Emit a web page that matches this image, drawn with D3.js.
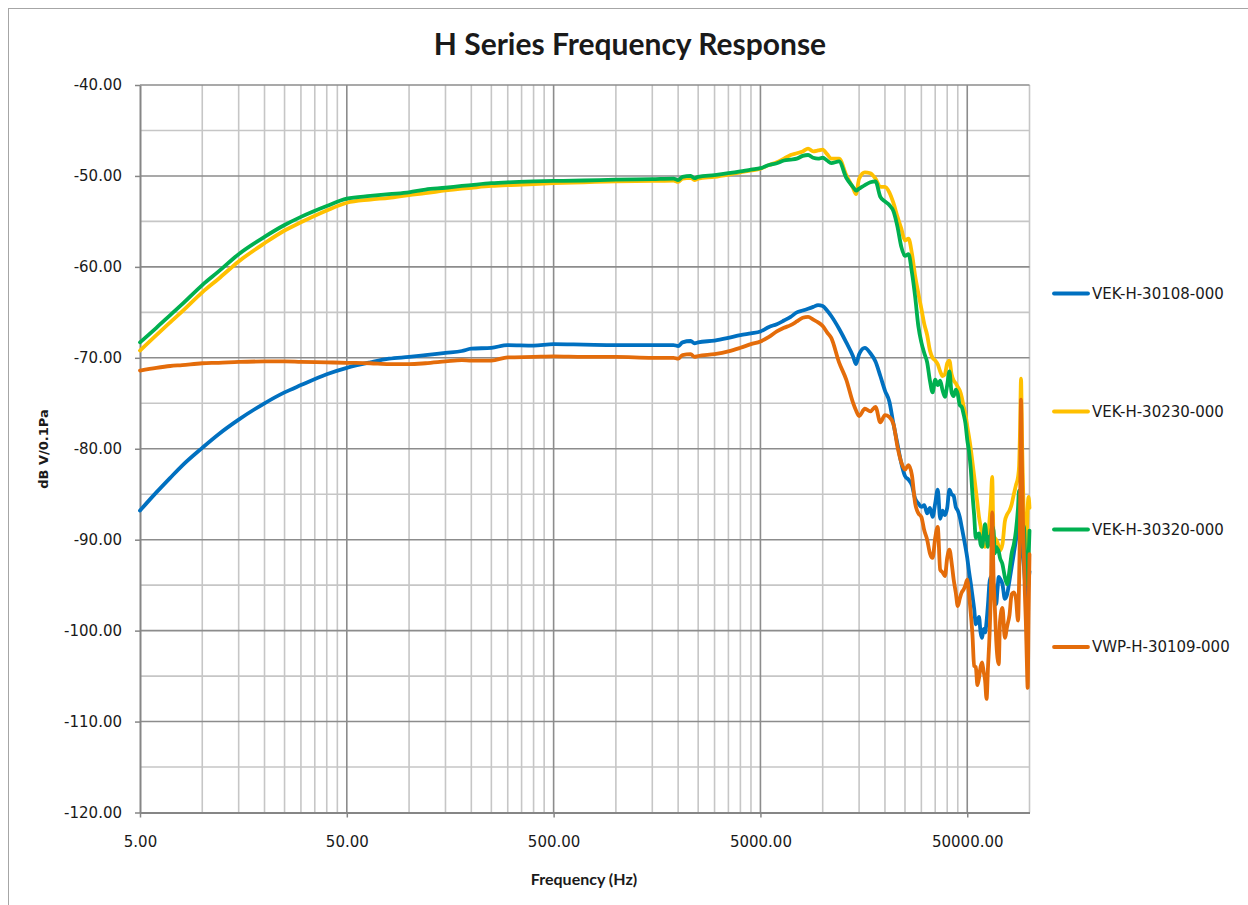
<!DOCTYPE html>
<html>
<head>
<meta charset="utf-8">
<script src="https://cdn.jsdelivr.net/npm/d3@7"></script>
<style>
  body { margin: 0; background: #fff; }
  svg { display: block; }
</style>
</head>
<body>
<svg id="chart" width="1248" height="905"></svg>
<script>
// frequency points (Hz), shared by all four series
var freqHz = [5, 6, 7, 8, 10, 12, 15, 20, 25, 30,
    40, 50, 65, 80, 100, 120, 150, 180, 200, 250,
    300, 400, 500, 700, 1000, 1500, 1900, 2000, 2100, 2300,
    2400, 2500, 3000, 3500, 4000, 4500, 5000, 5500, 6000, 6500,
    7000, 7500, 8000, 8500, 9000, 9500, 10000,
    10500, 11000, 12000, 13000, 14000, 14500, 15000, 16000, 17000, 18000, 19000, 20000,
    21000, 22000, 23000, 24000, 25000, 26000, 27000, 28000, 29000, 30000,
    31000, 32000, 33000, 34000, 35000, 36000, 37000, 38000, 39000, 40000,
    41000, 42000, 43000, 44000, 45000, 46000, 47000, 48000, 49000, 50000,
    51000, 52000, 53000, 54000, 55000, 56000, 57000, 58000, 59000, 60000,
    61000, 62000, 63000, 64000, 65000, 66000, 67000, 68000, 69000, 70000, 71000,
    72000, 74000, 76000, 78000, 80000, 82000, 84000, 86000, 88000,
    89000, 90000, 91000, 92000, 93000, 94000, 95000, 96000, 97000, 98000, 99000, 100000];

// dB V/0.1Pa
var vek30108 = [-86.8, -84.8, -83.2, -81.85, -79.9, -78.4, -76.8, -75.0, -73.8, -73.0,
    -71.8, -71.1, -70.5, -70.1, -69.9, -69.7, -69.45, -69.25, -69.0, -68.9,
    -68.6, -68.65, -68.5, -68.55, -68.6, -68.6, -68.6, -68.7, -68.3, -68.15,
    -68.4, -68.3, -68.1, -67.8, -67.5, -67.3, -67.1, -66.6, -66.3, -65.9,
    -65.5, -65.0, -64.8, -64.6, -64.4, -64.2, -64.3,
    -64.8, -65.4, -66.8, -68.3, -69.8, -70.7, -69.6, -68.9, -69.5, -70.4, -72.0, -73.6,
    -74.8, -77.3, -79.5, -81.6, -83.0, -83.4, -84.0, -85.5, -86.0, -86.4,
    -86.2, -87.1, -86.5, -87.5, -86.0, -84.5, -87.7, -86.8, -87.3, -86.5,
    -84.5, -85.0, -85.2, -86.4, -86.8, -87.5, -88.6, -89.7, -90.8, -92.0,
    -93.5, -94.8, -96.2, -97.6, -99.3, -99.0, -98.5, -100.2, -100.8, -99.8,
    -100.2, -99.0, -97.1, -94.8, -94.1, -94.5, -94.9, -96.0, -97.1, -95.5, -94.1,
    -94.3, -94.9, -96.5, -96.0, -94.5, -93.0, -91.5, -90.0, -88.0,
    -88.5, -89.0, -90.0, -91.0, -92.0, -93.0, -94.5, -96.0, -97.0, -96.0, -94.5, -93.5];

var vek30230 = [-69.2, -67.5, -66.1, -64.9, -62.8, -61.3, -59.4, -57.4, -56.0, -55.1,
    -53.8, -52.95, -52.6, -52.4, -52.1, -51.9, -51.6, -51.4, -51.3, -51.1,
    -51.0, -50.9, -50.8, -50.7, -50.6, -50.55, -50.5, -50.65, -50.3, -50.2,
    -50.45, -50.3, -50.1, -49.85, -49.6, -49.4, -49.2, -48.8, -48.5, -48.1,
    -47.7, -47.5, -47.3, -47.0, -47.3, -47.2, -47.1,
    -47.6, -48.1, -48.1, -49.9, -51.3, -52.0, -50.3, -49.6, -49.7, -50.3, -51.2, -51.2,
    -51.8, -53.0, -54.5, -55.8, -57.1, -56.9, -58.5, -61.0, -62.9, -64.6,
    -66.3, -67.5, -69.2, -70.0, -70.3, -70.7, -71.5, -72.0, -71.8, -70.6,
    -70.3, -71.8, -72.5, -72.8, -73.2, -73.6, -74.3, -75.3, -76.2, -77.5,
    -78.7, -80.0, -81.5, -83.0, -84.5, -86.0, -87.5, -88.5, -89.5, -90.5,
    -90.8, -90.5, -90.3, -88.0, -86.0, -83.1, -89.5, -89.8, -90.0, -90.3, -90.8,
    -91.2, -90.5, -88.0, -87.2, -86.8, -86.1, -85.0, -84.0, -83.1,
    -82.0, -78.0, -72.3, -79.0, -84.0, -88.0, -91.5, -93.4, -90.0, -86.5, -85.3, -86.5];

var vek30320 = [-68.3, -66.7, -65.3, -64.1, -62.0, -60.5, -58.6, -56.7, -55.4, -54.5,
    -53.3, -52.5, -52.2, -52.0, -51.8, -51.5, -51.3, -51.1, -51.0, -50.8,
    -50.7, -50.6, -50.55, -50.5, -50.4, -50.35, -50.3, -50.45, -50.1, -50.0,
    -50.25, -50.1, -49.9, -49.7, -49.5, -49.3, -49.15, -48.8, -48.6, -48.3,
    -48.2, -48.1, -47.8, -47.7, -48.0, -48.1, -48.0,
    -48.3, -48.6, -48.4, -50.2, -51.2, -51.6, -51.4, -51.0, -50.7, -50.6, -52.3, -52.8,
    -53.2, -53.9, -55.6, -57.8, -58.8, -58.6, -60.6, -63.3, -66.5, -68.3,
    -69.5, -70.5, -72.5, -73.8, -72.4, -73.0, -72.5, -73.6, -74.3, -73.0,
    -71.5, -73.8, -74.2, -73.5, -74.0, -75.2, -75.4, -76.2, -77.2, -79.0,
    -80.3, -82.2, -85.0, -87.3, -89.8, -89.5, -89.3, -90.5, -90.8, -89.5,
    -88.3, -89.8, -90.8, -89.7, -89.5, -88.5, -89.0, -91.5, -90.8, -91.0, -91.3,
    -92.0, -92.7, -94.1, -94.9, -93.4, -91.5, -90.5, -89.0, -86.5,
    -84.6, -86.0, -88.5, -89.5, -89.0, -88.5, -91.0, -93.0, -94.0, -94.9, -92.0, -89.0];

var vwp30109 = [-71.4, -71.1, -70.9, -70.8, -70.6, -70.55, -70.45, -70.4, -70.4, -70.45,
    -70.5, -70.55, -70.6, -70.7, -70.7, -70.6, -70.4, -70.25, -70.3, -70.3,
    -69.95, -69.9, -69.85, -69.9, -69.9, -70.0, -70.0, -70.1, -69.7, -69.6,
    -69.9, -69.8, -69.6, -69.3, -68.9, -68.5, -68.2, -67.7, -67.1, -66.7,
    -66.4, -66.0, -65.6, -65.5, -65.8, -66.1, -66.5,
    -67.2, -67.8, -70.5, -72.4, -74.9, -75.8, -76.4, -75.6, -75.9, -75.4, -77.1, -76.3,
    -76.5, -77.3, -79.8, -81.5, -82.3, -81.8, -82.9, -86.0, -87.1, -87.5,
    -89.0, -90.0, -91.5, -92.0, -89.8, -88.6, -93.3, -93.6, -94.0, -92.0,
    -91.1, -92.5, -94.4, -95.8, -97.3, -96.5, -95.8, -95.5, -95.0, -94.4,
    -96.0, -98.1, -100.5, -103.9, -104.0, -106.0, -105.2, -104.0, -103.5, -104.5,
    -105.5, -107.5, -104.0, -100.8, -96.0, -87.0, -94.0, -97.5, -101.0, -103.0, -103.7,
    -99.0, -97.5, -100.8, -99.5, -98.3, -96.0, -95.8, -96.5, -98.9,
    -95.0, -88.0, -74.6, -82.0, -88.0, -92.0, -96.0, -99.0, -103.0, -106.3, -98.0, -91.6];

var seriesNames = ["VEK-H-30108-000", "VEK-H-30230-000", "VEK-H-30320-000", "VWP-H-30109-000"];
var seriesValues = [vek30108, vek30230, vek30320, vwp30109];
var seriesColors = ["#0070C0", "#FFC000", "#00B050", "#E46C0A"];

var xTicks = [5, 50, 500, 5000, 50000];
var yTicks = [-120, -110, -100, -90, -80, -70, -60, -50, -40];

var svg = d3.select("#chart"),
    plot = {left: 140, right: 1029.5, top: 85, bottom: 812.5};

var x = d3.scaleLog().domain([5, 100000]).range([plot.left, plot.right]);
var y = d3.scaleLinear().domain([-120, -40]).range([plot.bottom, plot.top]);

// outer chart frame
svg.append("rect")
    .attr("x", 8.5).attr("y", 8.5)
    .attr("width", 1300).attr("height", 1000)
    .attr("fill", "none")
    .attr("stroke", "#a6a6a6");

// minor grid
var minorX = [];
xTicks.forEach(function (b) {
    for (var m = 2; m <= 9; m++) {
        if (b * m <= 100000) minorX.push(b * m);
    }
});
var minorY = d3.range(-115, -40, 10);

var grid = svg.append("g");
grid.selectAll(".mx").data(minorX).enter().append("line")
    .attr("x1", function (d) { return x(d); }).attr("x2", function (d) { return x(d); })
    .attr("y1", plot.top).attr("y2", plot.bottom)
    .attr("stroke", "#c6c6c6").attr("stroke-width", 1.6);
grid.selectAll(".my").data(minorY).enter().append("line")
    .attr("x1", plot.left).attr("x2", plot.right)
    .attr("y1", function (d) { return y(d); }).attr("y2", function (d) { return y(d); })
    .attr("stroke", "#c6c6c6").attr("stroke-width", 1.6);

// major grid
grid.selectAll(".Mx").data(xTicks.slice(1)).enter().append("line")
    .attr("x1", function (d) { return x(d); }).attr("x2", function (d) { return x(d); })
    .attr("y1", plot.top).attr("y2", plot.bottom)
    .attr("stroke", "#8c8c8c").attr("stroke-width", 1.6);
grid.selectAll(".My").data(yTicks.slice(1)).enter().append("line")
    .attr("x1", plot.left).attr("x2", plot.right)
    .attr("y1", function (d) { return y(d); }).attr("y2", function (d) { return y(d); })
    .attr("stroke", "#8c8c8c").attr("stroke-width", 1.6);

// axes (plain hyphen for negatives, like the original)
var fmt = function (d) { return d.toFixed(2); };
var yAxis = svg.append("g")
    .attr("transform", "translate(" + plot.left + ",0)")
    .call(d3.axisLeft(y).tickValues(yTicks).tickFormat(fmt).tickSize(5).tickSizeOuter(0).tickPadding(13));
var xAxis = svg.append("g")
    .attr("transform", "translate(0," + plot.bottom + ")")
    .call(d3.axisBottom(x).tickValues(xTicks).tickFormat(fmt).tickSize(5).tickSizeOuter(0).tickPadding(19));

[xAxis, yAxis].forEach(function (a) {
    a.select(".domain").attr("stroke", "#868686").attr("stroke-width", 2);
    a.selectAll(".tick line").attr("stroke", "#868686").attr("stroke-width", 1.5);
    a.selectAll(".tick text")
        .attr("fill", "#1a1a1a")
        .style("font-family", "'DejaVu Sans', sans-serif")
        .style("font-size", "15px");
});

// series lines
var line = d3.line()
    .curve(d3.curveMonotoneX)
    .x(function (d) { return x(d.f); })
    .y(function (d) { return y(d.v); });

seriesNames.forEach(function (name, i) {
    var pts = freqHz.map(function (f, j) { return {f: f, v: seriesValues[i][j]}; });
    svg.append("path")
        .datum(pts)
        .attr("d", line)
        .attr("fill", "none")
        .attr("stroke", seriesColors[i])
        .attr("stroke-width", 3.8)
        .attr("stroke-linejoin", "round")
        .attr("stroke-linecap", "round");
});

// titles
svg.append("text")
    .attr("x", 630).attr("y", 55)
    .attr("text-anchor", "middle")
    .style("font-family", "Lato, sans-serif")
    .style("font-weight", "bold")
    .style("font-size", "30px")
    .attr("fill", "#1a1a1a")
    .text("H Series Frequency Response");

svg.append("text")
    .attr("x", 584).attr("y", 885)
    .attr("text-anchor", "middle")
    .style("font-family", "Lato, sans-serif")
    .style("font-weight", "bold")
    .style("font-size", "16px")
    .attr("fill", "#1a1a1a")
    .text("Frequency (Hz)");

svg.append("text")
    .attr("transform", "translate(48,449) rotate(-90)")
    .attr("text-anchor", "middle")
    .style("font-family", "'DejaVu Sans', sans-serif")
    .style("font-weight", "bold")
    .style("font-size", "13px")
    .attr("fill", "#1a1a1a")
    .text("dB V/0.1Pa");

// legend
var legendY = [293.5, 411.5, 529.5, 647];
var legend = svg.append("g").selectAll("g")
    .data(seriesNames)
    .enter().append("g")
    .attr("transform", function (d, i) { return "translate(0," + legendY[i] + ")"; });

legend.append("line")
    .attr("x1", 1054).attr("x2", 1088)
    .attr("stroke", function (d, i) { return seriesColors[i]; })
    .attr("stroke-width", 3.8)
    .attr("stroke-linecap", "round");

legend.append("text")
    .attr("x", 1092).attr("y", 0)
    .attr("dy", "0.36em")
    .style("font-family", "'DejaVu Sans', sans-serif")
    .style("font-size", "15px")
    .attr("fill", "#1a1a1a")
    .text(function (d) { return d; });
</script>
</body>
</html>
